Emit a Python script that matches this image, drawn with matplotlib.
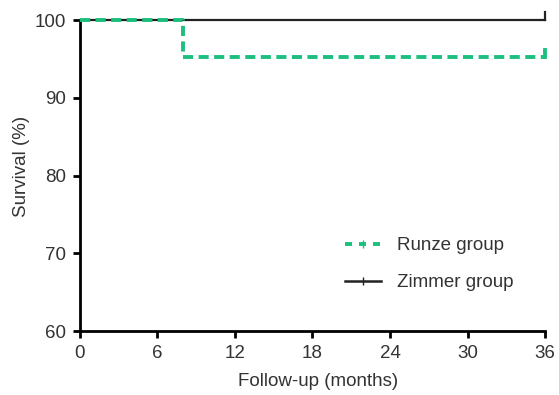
import matplotlib
matplotlib.use('Agg')
import matplotlib.pyplot as plt
from matplotlib.lines import Line2D

plt.rcParams['font.family'] = ['Liberation Sans', 'DejaVu Sans']

# 生存曲线数据（阶梯）
runze_t = [0, 8, 36]
runze_s = [100, 95.2, 95.2]
zimmer_t = [0, 36]
zimmer_s = [100, 100]
xticks = [0, 6, 12, 18, 24, 30, 36]
yticks = [60, 70, 80, 90, 100]

green = '#1dbf7f'
dark = '#222222'

fig = plt.figure(figsize=(5.59, 3.95), dpi=100)
ax = fig.add_axes([0.143, 0.162, 0.832, 0.787])

ax.step(zimmer_t, zimmer_s, where='post', color=dark, lw=1.6, zorder=3, clip_on=False)
ax.step(runze_t, runze_s, where='post', color=green, lw=2.8,
        linestyle=(0, (2.6, 1.4)), zorder=4, clip_on=False)
# 删失标记
ax.plot([36, 36], [100, 101.0], color=dark, lw=1.6, zorder=3, clip_on=False)
ax.plot([36, 36], [runze_s[-1], runze_s[-1] + 1.0], color=green, lw=2.8,
        zorder=4, clip_on=False)

ax.set_xlim(0, 36)
ax.set_ylim(60, 100)
ax.set_xticks(xticks)
ax.set_yticks(yticks)
for s in ['top', 'right']:
    ax.spines[s].set_visible(False)
for s in ['left', 'bottom']:
    ax.spines[s].set_linewidth(2)
ax.tick_params(width=2, length=5, labelsize=13.5, pad=5, color='black', labelcolor='#333333')
ax.set_xlabel('Follow-up (months)', fontsize=13.5, color='#333333', labelpad=6)
ax.xaxis.set_label_coords(0.513, -0.135)
ax.set_ylabel('Survival (%)', fontsize=13.5, color='#333333', labelpad=4)
ax.yaxis.set_label_coords(-0.108, 0.53)

handles = [
    Line2D([0], [0], color=green, lw=2.8, linestyle=(0, (1.8, 1.8)), marker='|',
           markersize=6, markevery=[1]),
    Line2D([0], [0], color=dark, lw=1.8, marker='|', markersize=6, markevery=[1]),
]
leg = ax.legend(handles, ['Runze group', 'Zimmer group'], loc='center left',
                bbox_to_anchor=(0.57, 0.215), frameon=False, fontsize=13.5,
                borderpad=0, borderaxespad=0,
                handlelength=1.9, labelspacing=1.05, handletextpad=0.85)
for t in leg.get_texts():
    t.set_color('#333333')

fig.savefig('out.png', dpi=100)
